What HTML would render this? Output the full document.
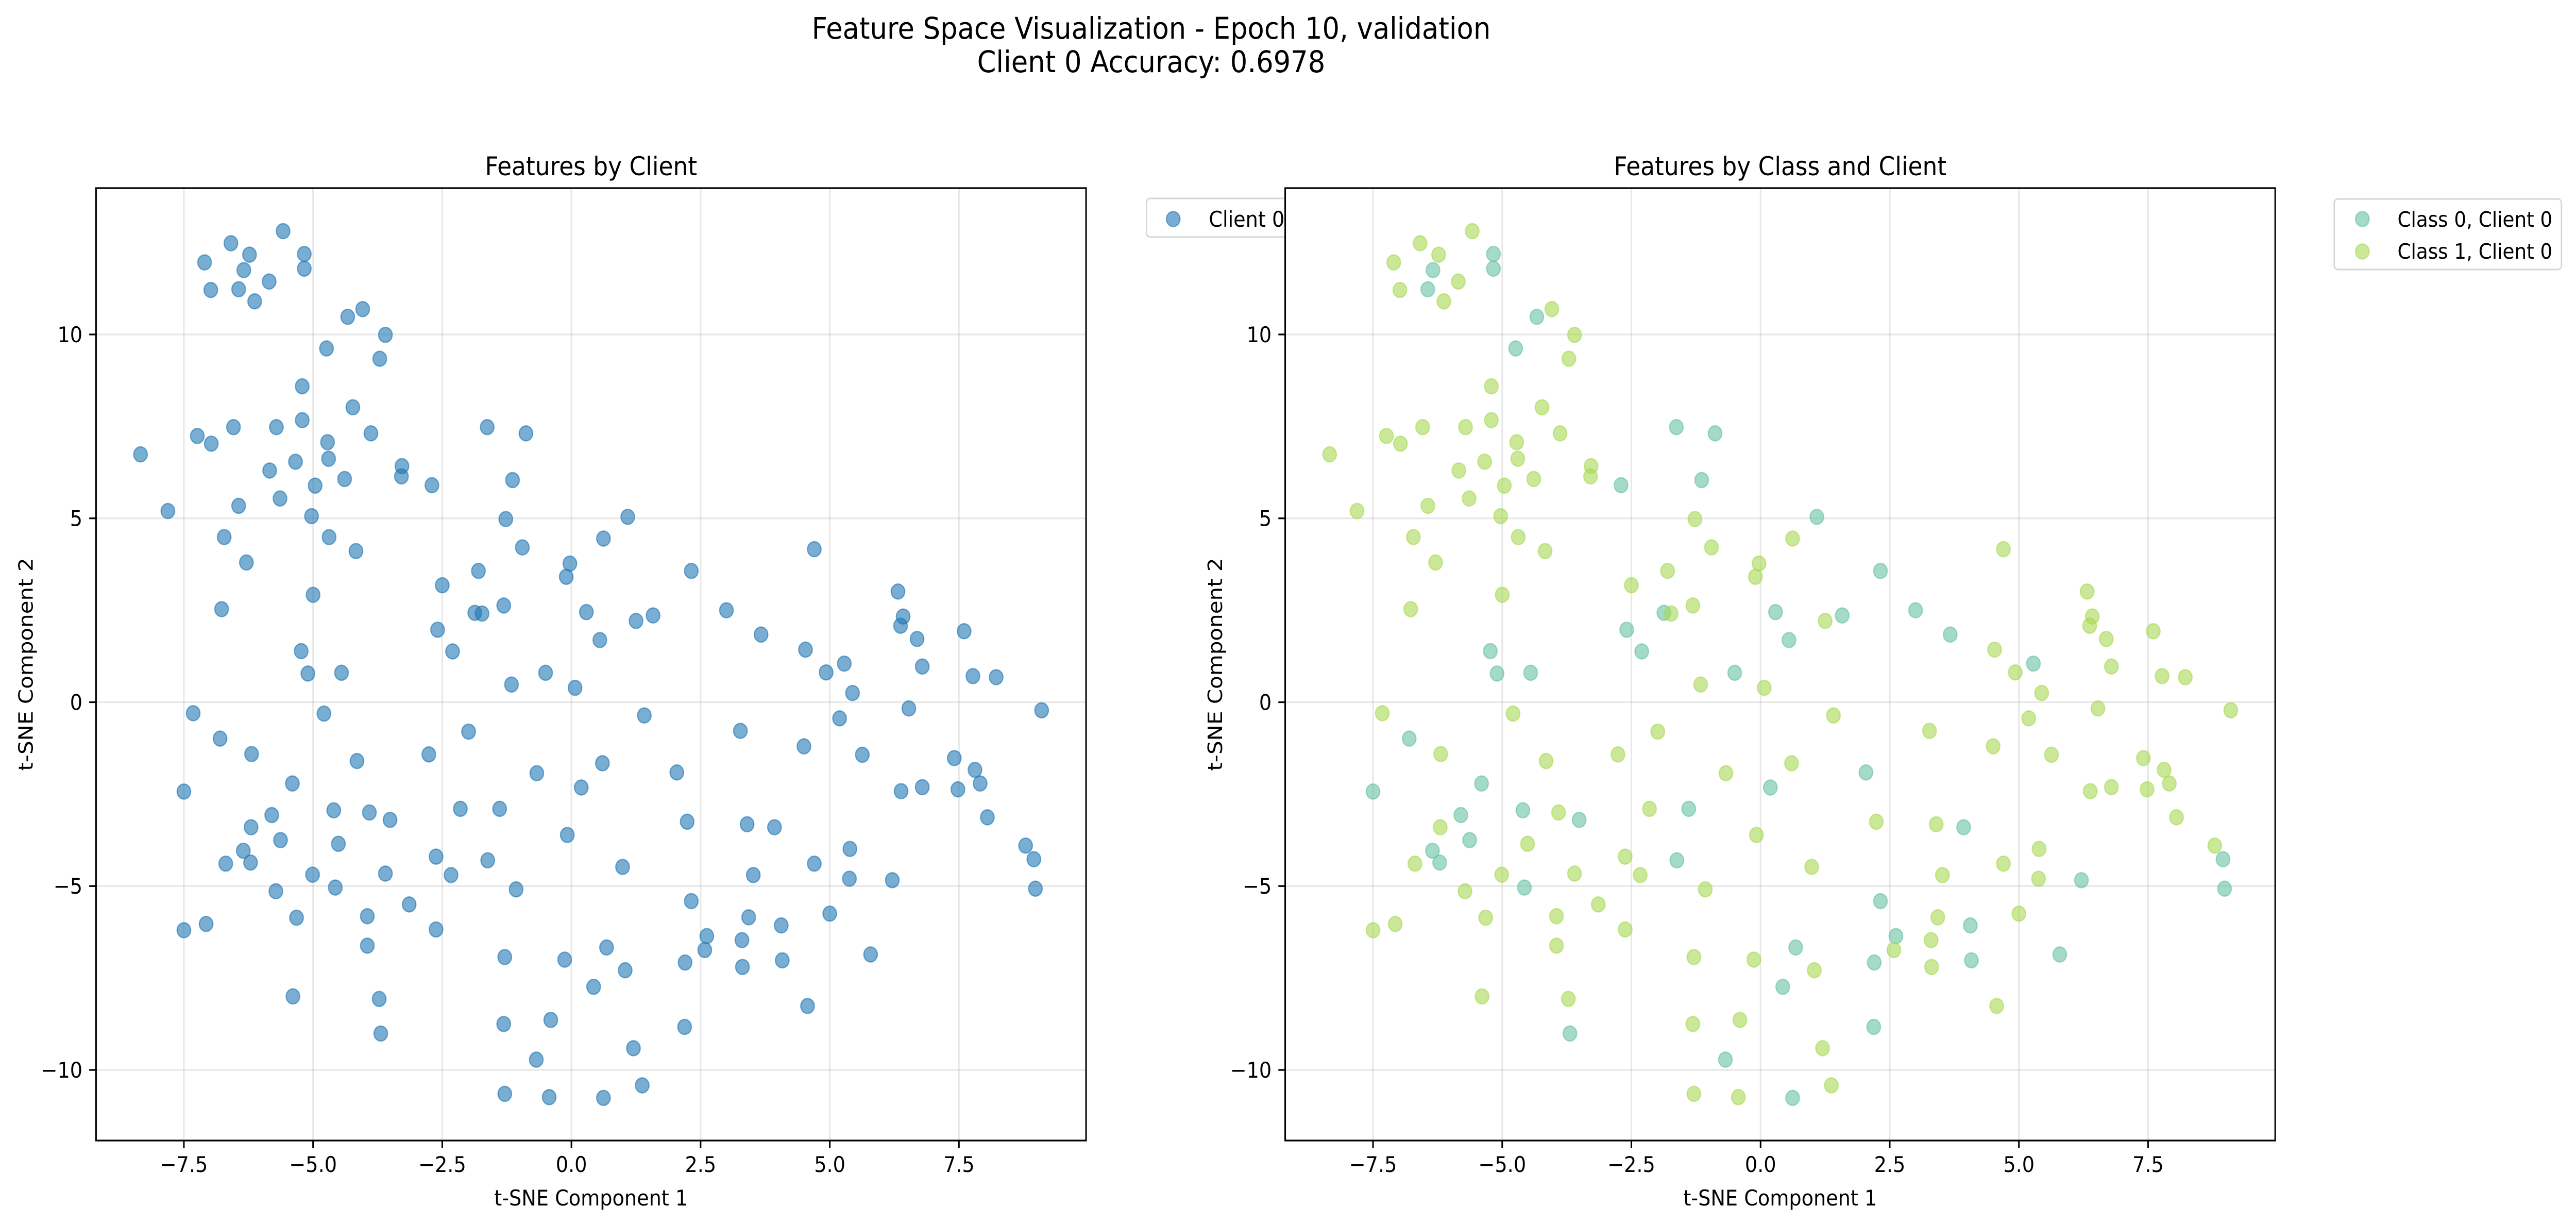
<!DOCTYPE html>
<html>
<head>
<meta charset="utf-8">
<style>
html,body{margin:0;padding:0;background:#fff;width:100vw;height:100vh;overflow:hidden;}
svg{display:block;width:100vw;height:100vh;font-family:"DejaVu Sans","Liberation Sans",sans-serif;}
</style>
</head>
<body>
<svg id="fig" xmlns="http://www.w3.org/2000/svg" width="100%" height="100%" viewBox="0 0 5498 2373" preserveAspectRatio="none">
  <rect x="0" y="0" width="5498" height="2373" fill="#fff"/>
  <text x="2457" y="75" font-size="58" text-anchor="middle">Feature Space Visualization - Epoch 10, validation</text>
  <text x="2457" y="140" font-size="58" text-anchor="middle">Client 0 Accuracy: 0.6978</text>
  <g id="left"></g>
  <g id="leftLegend">
    <rect x="2447" y="385" width="380" height="75" rx="8" fill="#fff" stroke="#d6d6d6" stroke-width="3"/>
    <circle cx="2504" cy="425" r="14.5" fill="#1f77b4" fill-opacity="0.6" stroke="#1f77b4" stroke-opacity="0.6" stroke-width="2.5"/>
    <text x="2580" y="440" font-size="42">Client 0</text>
  </g>
  <g id="right"></g>
  <g id="rightLegend">
    <rect x="4982" y="386" width="485" height="137" rx="8" fill="#fff" stroke="#d6d6d6" stroke-width="3"/>
    <circle cx="5042" cy="425" r="14.5" fill="#66c2a5" fill-opacity="0.6" stroke="#66c2a5" stroke-opacity="0.6" stroke-width="2.5"/>
    <text x="5117" y="440" font-size="41">Class 0, Client 0</text>
    <circle cx="5042" cy="488" r="14.5" fill="#a6d854" fill-opacity="0.6" stroke="#a6d854" stroke-opacity="0.6" stroke-width="2.5"/>
    <text x="5117" y="502" font-size="41">Class 1, Client 0</text>
  </g>
</svg>
<script>
const xTicks = [-7.5, -5.0, -2.5, 0.0, 2.5, 5.0, 7.5];
const xTickLabels = ["\u22127.5", "\u22125.0", "\u22122.5", "0.0", "2.5", "5.0", "7.5"];
const yTicks = [-10, -5, 0, 5, 10];
const yTickLabels = ["\u221210", "\u22125", "0", "5", "10"];
const pointX = [-5.58,-6.59,-6.23,-7.10,-5.17,-5.17,-6.34,-5.85,-6.98,-6.44,-6.13,-4.04,-4.33,-3.60,-4.74,-3.71,-5.21,-4.23,-5.21,-6.54,-5.71,-7.24,-6.97,-3.88,-4.72,-4.70,-8.34,-5.34,-5.84,-4.39,-3.28,-3.29,-4.96,-2.70,-1.63,-0.88,-1.14,-7.81,-6.44,-5.64,-5.03,-1.27,-6.72,-4.69,-4.17,-0.95,-6.29,-0.03,-0.10,-1.80,-2.50,-5.00,-6.77,-1.87,-1.73,-1.31,0.29,-2.59,-5.23,-2.30,
1.09,0.62,4.70,2.32,6.32,6.42,6.37,6.69,7.60,3.00,1.25,1.58,0.55,3.67,4.53,
-5.10,-4.45,-1.16,-0.50,0.07,-7.32,-4.79,-1.99,-6.80,-6.19,-4.15,-2.76,-0.67,-7.50,-5.40,0.19,-4.60,-3.91,-3.51,-2.15,-1.39,-5.80,-6.20,-5.63,-4.51,-0.08,-6.35,-6.21,-6.69,-2.62,-1.62,-5.01,-3.60,-2.33,-5.72,-4.57,-1.07,-3.14,-5.32,-3.95,-2.62,-7.50,-7.07,-3.95,-1.29,-0.13,-5.39,-3.72,-1.31,-0.40,-3.69,-0.68,-1.29,-0.43,
5.28,4.93,6.79,7.77,8.22,5.44,6.53,9.10,5.19,1.41,3.27,4.50,5.63,0.60,2.04,7.41,7.81,7.91,6.38,6.79,7.48,8.05,2.24,3.40,3.93,5.39,4.70,3.52,5.38,6.21,8.79,8.95,8.98,0.99,2.32,3.43,5.00,4.06,2.62,2.58,3.30,0.68,2.20,3.31,4.08,5.79,1.04,0.43,4.57,2.19,1.20,1.37,0.62];
const pointY = [12.81,12.48,12.17,11.96,12.19,11.79,11.75,11.44,11.21,11.23,10.90,10.69,10.48,9.99,9.62,9.34,8.59,8.02,7.67,7.48,7.48,7.24,7.03,7.31,7.07,6.62,6.74,6.54,6.30,6.07,6.42,6.14,5.89,5.90,7.48,7.31,6.04,5.20,5.34,5.54,5.06,4.98,4.49,4.49,4.11,4.21,3.80,3.77,3.41,3.57,3.18,2.92,2.53,2.43,2.41,2.63,2.45,1.97,1.39,1.38,
5.04,4.45,4.16,3.57,3.01,2.33,2.08,1.72,1.93,2.50,2.21,2.36,1.69,1.84,1.43,
0.78,0.80,0.48,0.80,0.39,-0.30,-0.31,-0.80,-0.99,-1.41,-1.60,-1.42,-1.93,-2.43,-2.21,-2.32,-2.94,-3.00,-3.20,-2.90,-2.90,-3.07,-3.40,-3.75,-3.85,-3.61,-4.04,-4.36,-4.39,-4.20,-4.30,-4.69,-4.66,-4.70,-5.14,-5.04,-5.09,-5.50,-5.86,-5.82,-6.18,-6.20,-6.03,-6.62,-6.93,-7.00,-8.00,-8.07,-8.75,-8.64,-9.01,-9.72,-10.65,-10.74,
1.05,0.81,0.97,0.71,0.68,0.25,-0.17,-0.22,-0.44,-0.36,-0.78,-1.20,-1.43,-1.66,-1.91,-1.52,-1.84,-2.21,-2.42,-2.31,-2.37,-3.13,-3.25,-3.32,-3.40,-3.99,-4.39,-4.70,-4.80,-4.84,-3.90,-4.27,-5.07,-4.48,-5.41,-5.85,-5.75,-6.07,-6.36,-6.74,-6.47,-6.67,-7.08,-7.20,-7.02,-6.86,-7.29,-7.74,-8.26,-8.83,-9.41,-10.42,-10.76];
const pointClass = [1,1,1,1,0,0,0,1,1,0,1,1,0,1,0,1,1,1,1,1,1,1,1,1,1,1,1,1,1,1,1,1,1,0,0,0,0,1,1,1,1,1,1,1,1,1,1,1,1,1,1,1,1,0,1,1,0,0,0,0,
0,1,1,0,1,1,1,1,1,0,1,0,0,0,1,
0,0,1,0,1,1,1,1,0,1,1,1,1,0,0,0,0,1,0,1,0,0,1,0,1,1,0,0,1,1,0,1,1,1,1,0,1,1,1,1,1,1,1,1,1,1,1,1,1,1,0,0,1,1,
0,1,1,1,1,1,1,1,1,1,1,1,1,1,0,1,1,1,1,1,1,1,1,1,0,1,1,1,1,0,1,0,0,1,0,1,1,0,0,1,1,0,0,1,0,0,1,0,1,0,1,1,0];

const NS = "http://www.w3.org/2000/svg";
const X0 = -9.2, X1 = 9.96, Y0 = -11.92, Y1 = 13.98;
function mk(tag, attrs, parent) {
  const e = document.createElementNS(NS, tag);
  for (const k in attrs) e.setAttribute(k, attrs[k]);
  parent.appendChild(e);
  return e;
}
function drawAxes(g, left, top, width, height, title, kind) {
  const right = left + width, bottom = top + height;
  const sx = v => left + (v - X0) / (X1 - X0) * width;
  const sy = v => top + (Y1 - v) / (Y1 - Y0) * height;
  const bg = mk("rect", {x:left, y:top, width:width, height:height, fill:"#fff"}, g);
  
  
  xTicks.forEach((t, i) => {
    const gl = mk("line", {x1:sx(t), x2:sx(t), y1:top, y2:bottom, stroke:"#b0b0b0", "stroke-opacity":0.3, "stroke-width":3.3}, g);
    
    
    const tk = mk("line", {x1:sx(t), x2:sx(t), y1:bottom, y2:bottom + 14.6, stroke:"#000", "stroke-width":3.3}, g);
    
    
    const tl = mk("text", {x:sx(t), y:bottom + 61, "font-size":42, "text-anchor":"middle"}, g);
    tl.textContent = xTickLabels[i];
    
    
  });
  yTicks.forEach((t, i) => {
    const gl = mk("line", {x1:left, x2:right, y1:sy(t), y2:sy(t), stroke:"#b0b0b0", "stroke-opacity":0.3, "stroke-width":3.3}, g);
    
    
    const tk = mk("line", {x1:left - 14.6, x2:left, y1:sy(t), y2:sy(t), stroke:"#000", "stroke-width":3.3}, g);
    
    
    const tl = mk("text", {x:left - 29, y:sy(t) + 15, "font-size":42, "text-anchor":"end"}, g);
    tl.textContent = yTickLabels[i];
    
    
  });
  for (let i = 0; i < pointX.length; i++) {
    const col = kind === "client" ? "#1f77b4" : (pointClass[i] === 0 ? "#66c2a5" : "#a6d854");
    const c = mk("circle", {cx:sx(pointX[i]), cy:sy(pointY[i]), r:14.5, fill:col, "fill-opacity":0.6, stroke:col, "stroke-opacity":0.6, "stroke-width":2.5}, g);
    
    
  }
  const sp = mk("rect", {x:left, y:top, width:width, height:height, fill:"none", stroke:"#000", "stroke-width":3.3}, g);
  
  
  const tt = mk("text", {x:left + width / 2, y:top - 25, "font-size":50, "text-anchor":"middle"}, g);
  tt.textContent = title;
  
  
  const xl = mk("text", {x:left + width / 2, y:bottom + 126, "font-size":42, "text-anchor":"middle"}, g);
  xl.textContent = "t-SNE Component 1";
  
  
  const yx = left - 135, yy = top + height / 2;
  const yl = mk("text", {x:yx, y:yy, "font-size":42, "text-anchor":"middle", transform:"rotate(-90 " + yx + " " + yy + ")"}, g);
  yl.textContent = "t-SNE Component 2";
  
  
}
drawAxes(document.getElementById("left"), 205, 365, 2113, 1848, "Features by Client", "client");
drawAxes(document.getElementById("right"), 2743, 365, 2113, 1848, "Features by Class and Client", "class");
</script>
</body>
</html>
